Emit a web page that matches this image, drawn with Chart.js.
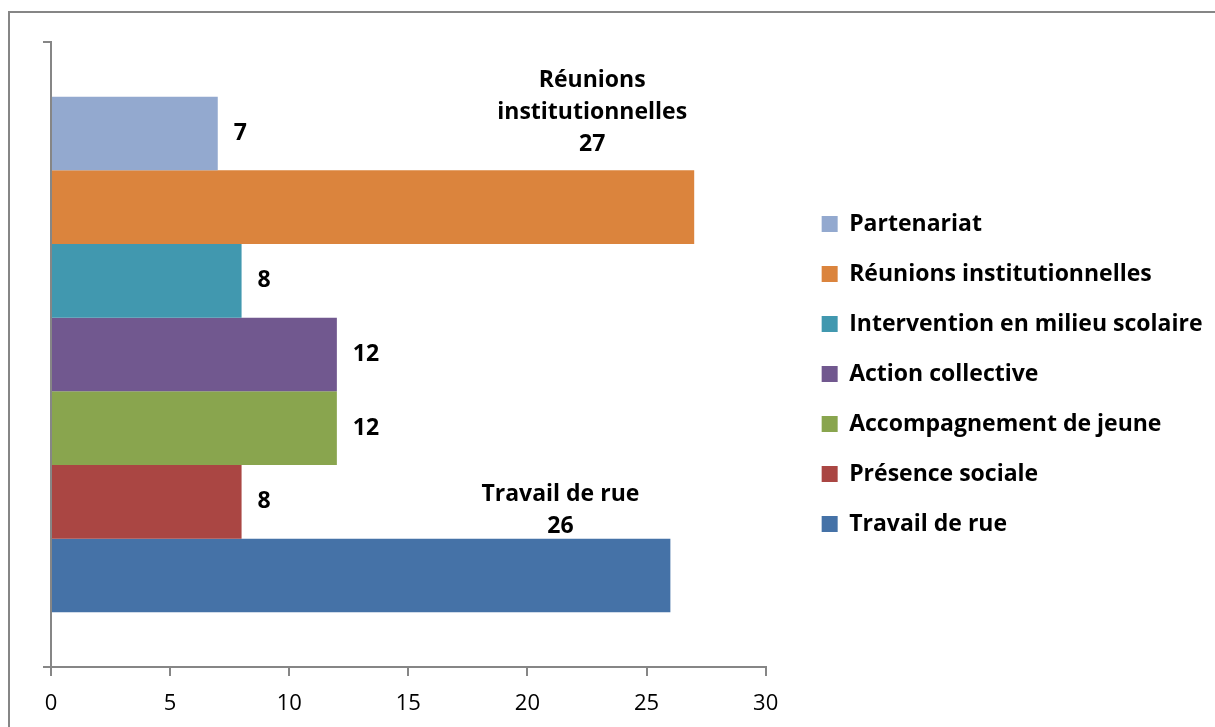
<!DOCTYPE html>
<html>
<head>
<meta charset="utf-8">
<title>Activités</title>
<script src="https://cdn.jsdelivr.net/npm/chart.js@4"></script>
<style>
  html, body { margin: 0; padding: 0; background: #fff; }
  #wrap { width: 1215px; height: 727px; }
</style>
</head>
<body>
<div id="wrap"><canvas id="activityChart"></canvas></div>
<script>
// data
const series = ['Partenariat', 'Réunions institutionnelles', 'Intervention en milieu scolaire',
  'Action collective', 'Accompagnement de jeune', 'Présence sociale', 'Travail de rue'];
const values = [7, 27, 8, 12, 12, 8, 26];
const colors = ['#93A9CF', '#DB843D', '#4198AF', '#71588F', '#89A54E', '#AA4643', '#4572A7'];
const xMin = 0;
const xMax = 30;
const xStep = 5;

const FONT = '"Open Sans", Lato, sans-serif';
const AXIS = '#868686';

// the two long bars get "name + value" above the bar (like the Excel original)
const labelAbove = { 1: { dx: -102, dy: -26 }, 6: { dx: -110, dy: -12 } };

function wrap(ctx, text, maxW) {
  const words = text.split(' ');
  const lines = [];
  let cur = '';
  words.forEach(w => {
    const t = cur ? cur + ' ' + w : w;
    if (cur && ctx.measureText(t).width > maxW) { lines.push(cur); cur = w; }
    else cur = t;
  });
  lines.push(cur);
  return lines;
}

const barLabels = {
  id: 'barLabels',
  afterDatasetsDraw(chart) {
    const ctx = chart.ctx;
    ctx.save();
    ctx.font = 'bold 23px ' + FONT;
    ctx.fillStyle = '#000';
    ctx.textBaseline = 'middle';
    chart.data.datasets.forEach((ds, i) => {
      const bar = chart.getDatasetMeta(i).data[0];
      const val = String(ds.data[0]);
      const above = labelAbove[i];
      if (above) {
        const lines = wrap(ctx, ds.label, 200).concat([val]);
        const top = bar.y - bar.height / 2;
        ctx.textAlign = 'center';
        lines.forEach((l, k) => {
          ctx.fillText(l, bar.x + above.dx, top + above.dy - (lines.length - 1 - k) * 32);
        });
      } else {
        ctx.textAlign = 'left';
        ctx.fillText(val, bar.x + 16, bar.y);
      }
    });
    ctx.restore();
  }
};

const frame = {
  id: 'frame',
  beforeDraw(chart) {
    const ctx = chart.ctx;
    ctx.save();
    ctx.strokeStyle = AXIS;
    ctx.lineWidth = 2;
    ctx.beginPath();
    ctx.moveTo(9, chart.height);
    ctx.lineTo(9, 12);
    ctx.lineTo(chart.width, 12);
    ctx.stroke();
    ctx.restore();
  }
};

Chart.defaults.font.family = FONT;

const ctx = document.getElementById('activityChart').getContext('2d');
const chart = new Chart(ctx, {
  type: 'bar',
  data: {
    labels: [''],
    datasets: series.map((name, i) => ({
      label: name,
      data: [values[i]],
      backgroundColor: colors[i],
      borderWidth: 0,
      yAxisID: 'y',
      categoryPercentage: 0.825,
      barPercentage: 1
    }))
  },
  options: {
    indexAxis: 'y',
    responsive: true,
    maintainAspectRatio: false,
    animation: false,
    layout: { padding: { top: 42, left: 43, right: 2.5, bottom: 0 } },
    scales: {
      x: {
        min: xMin,
        max: xMax,
        ticks: { stepSize: xStep, color: '#000', font: { size: 22, lineHeight: 1 }, padding: 17 },
        grid: { drawOnChartArea: false, tickLength: 9, color: AXIS, lineWidth: 2 },
        border: { color: AXIS, width: 2 },
        afterFit(s) { s.height = 60; }
      },
      y: {
        type: 'category',
        offset: true,
        ticks: { display: false },
        grid: { drawOnChartArea: false, tickLength: 8, color: AXIS, lineWidth: 2, offset: true },
        border: { color: AXIS, width: 2 }
      },
      gap: {
        type: 'linear',
        position: 'right',
        ticks: { display: false },
        grid: { display: false },
        border: { display: false },
        afterFit(s) { s.width = 29; }
      }
    },
    plugins: {
      legend: {
        position: 'right',
        align: 'center',
        fullSize: false,
        maxWidth: 460,
        title: { display: true, text: '', font: { size: 10, lineHeight: 1 }, padding: { top: 29, bottom: 0 } },
        labels: {
          boxWidth: 16,
          boxHeight: 16,
          padding: 27,
          color: '#000',
          font: { size: 23, weight: 'bold' }
        }
      },
      tooltip: { enabled: false }
    }
  },
  plugins: [frame, barLabels]
});
</script>
</body>
</html>
